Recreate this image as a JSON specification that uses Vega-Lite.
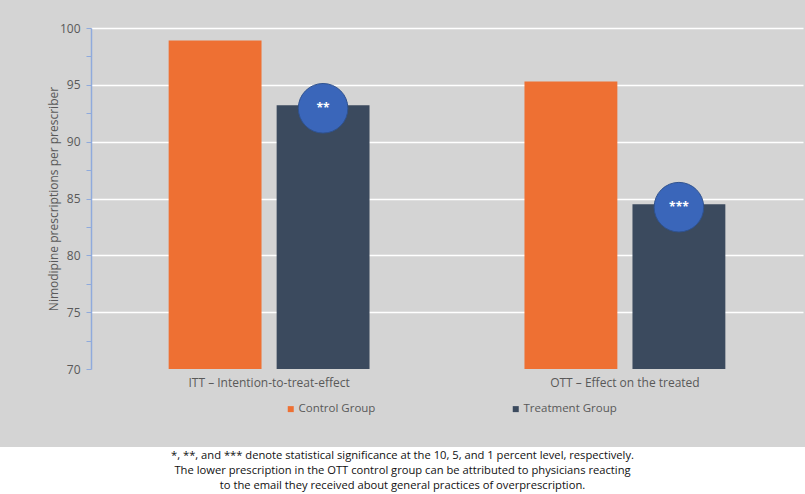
{
  "$schema": "https://vega.github.io/schema/vega-lite/v6.json",
  "background": "#d4d4d4",
  "padding": {"left": 0, "top": 22, "right": 0, "bottom": 0},
  "config": {"font": "Open Sans", "view": {"stroke": null}},
  "columns": 1,
  "center": true,
  "spacing": 32,
  "resolve": {
    "scale": {"x": "independent", "y": "independent", "color": "independent"},
    "legend": {"color": "independent"}
  },
  "concat": [
    {
      "width": 712,
      "height": 341,
      "data": {
        "values": [
          {"effect": "ITT – Intention-to-treat-effect", "group": "Control Group", "value": 98.9, "stars": ""},
          {"effect": "ITT – Intention-to-treat-effect", "group": "Treatment Group", "value": 93.2, "stars": "**"},
          {"effect": "OTT – Effect on the treated", "group": "Control Group", "value": 95.3, "stars": ""},
          {"effect": "OTT – Effect on the treated", "group": "Treatment Group", "value": 84.5, "stars": "***"}
        ]
      },
      "encoding": {
        "x": {
          "field": "effect",
          "type": "nominal",
          "sort": null,
          "scale": {"paddingInner": 0.393, "paddingOuter": 0.197},
          "axis": {
            "title": null,
            "domain": false,
            "ticks": false,
            "labelAngle": 0,
            "labelPadding": 8,
            "labelFontSize": 12,
            "labelColor": "#595959"
          }
        },
        "xOffset": {
          "field": "group",
          "type": "nominal",
          "sort": ["Control Group", "Treatment Group"],
          "scale": {"paddingInner": 0.14, "paddingOuter": 0.07}
        },
        "y": {
          "field": "value",
          "type": "quantitative",
          "scale": {"domain": [70, 100], "zero": false, "nice": false},
          "axis": {
            "title": "Nimodipine prescriptions per prescriber",
            "titleFontSize": 12,
            "titleFontWeight": "normal",
            "titleColor": "#595959",
            "titlePadding": -1,
            "values": [70, 72.5, 75, 77.5, 80, 82.5, 85, 87.5, 90, 92.5, 95, 97.5, 100],
            "labelExpr": "datum.value % 5 === 0 ? datum.label : ''",
            "labelFontSize": 12,
            "labelColor": "#595959",
            "labelPadding": 6,
            "domainColor": "#8FAADC",
            "domainWidth": 1.5,
            "tickColor": "#8FAADC",
            "tickSize": 5,
            "tickWidth": 1,
            "gridColor": "#ffffff",
            "gridWidth": 1.5,
            "gridOpacity": {"condition": {"test": "datum.value % 5 === 0 && datum.value > 70", "value": 1}, "value": 0}
          }
        }
      },
      "layer": [
        {
          "mark": {"type": "bar", "clip": true},
          "encoding": {
            "color": {
              "field": "group",
              "type": "nominal",
              "scale": {"domain": ["Control Group", "Treatment Group"], "range": ["#EE7033", "#3B4A5E"]},
              "legend": {
                "title": null,
                "orient": "none",
                "legendX": 194,
                "legendY": 375,
                "direction": "horizontal",
                "symbolType": "square",
                "symbolSize": 36,
                "symbolStrokeWidth": 0,
                "labelFontSize": 11.5,
                "labelColor": "#595959",
                "labelOffset": 2,
                "columnPadding": 134
              }
            }
          }
        },
        {
          "transform": [{"filter": "datum.stars !== ''"}],
          "mark": {"type": "point", "shape": "circle", "filled": true, "size": 2460, "fill": "#3A66BA", "stroke": "#2F528F", "strokeWidth": 1, "opacity": 1, "yOffset": 3}
        },
        {
          "transform": [{"filter": "datum.stars !== ''"}],
          "mark": {"type": "text", "color": "#ffffff", "fontWeight": "bold", "fontSize": 12, "yOffset": 3},
          "encoding": {"text": {"field": "stars"}}
        }
      ]
    },
    {
      "width": 894,
      "height": 48,
      "view": {"fill": "#ffffff", "stroke": null},
      "data": {
        "values": [
          {"line": 1, "note": "*, **, and *** denote statistical significance at the 10, 5, and 1 percent level, respectively."},
          {"line": 2, "note": "The lower prescription in the OTT control group can be attributed to physicians reacting"},
          {"line": 3, "note": "to the email they received about general practices of overprescription."}
        ]
      },
      "mark": {"type": "text", "fontSize": 11.2, "color": "#111111", "dx": -44.5},
      "encoding": {
        "y": {"field": "line", "type": "ordinal", "axis": null, "scale": {"padding": 0.55}},
        "text": {"field": "note"}
      }
    }
  ]
}
